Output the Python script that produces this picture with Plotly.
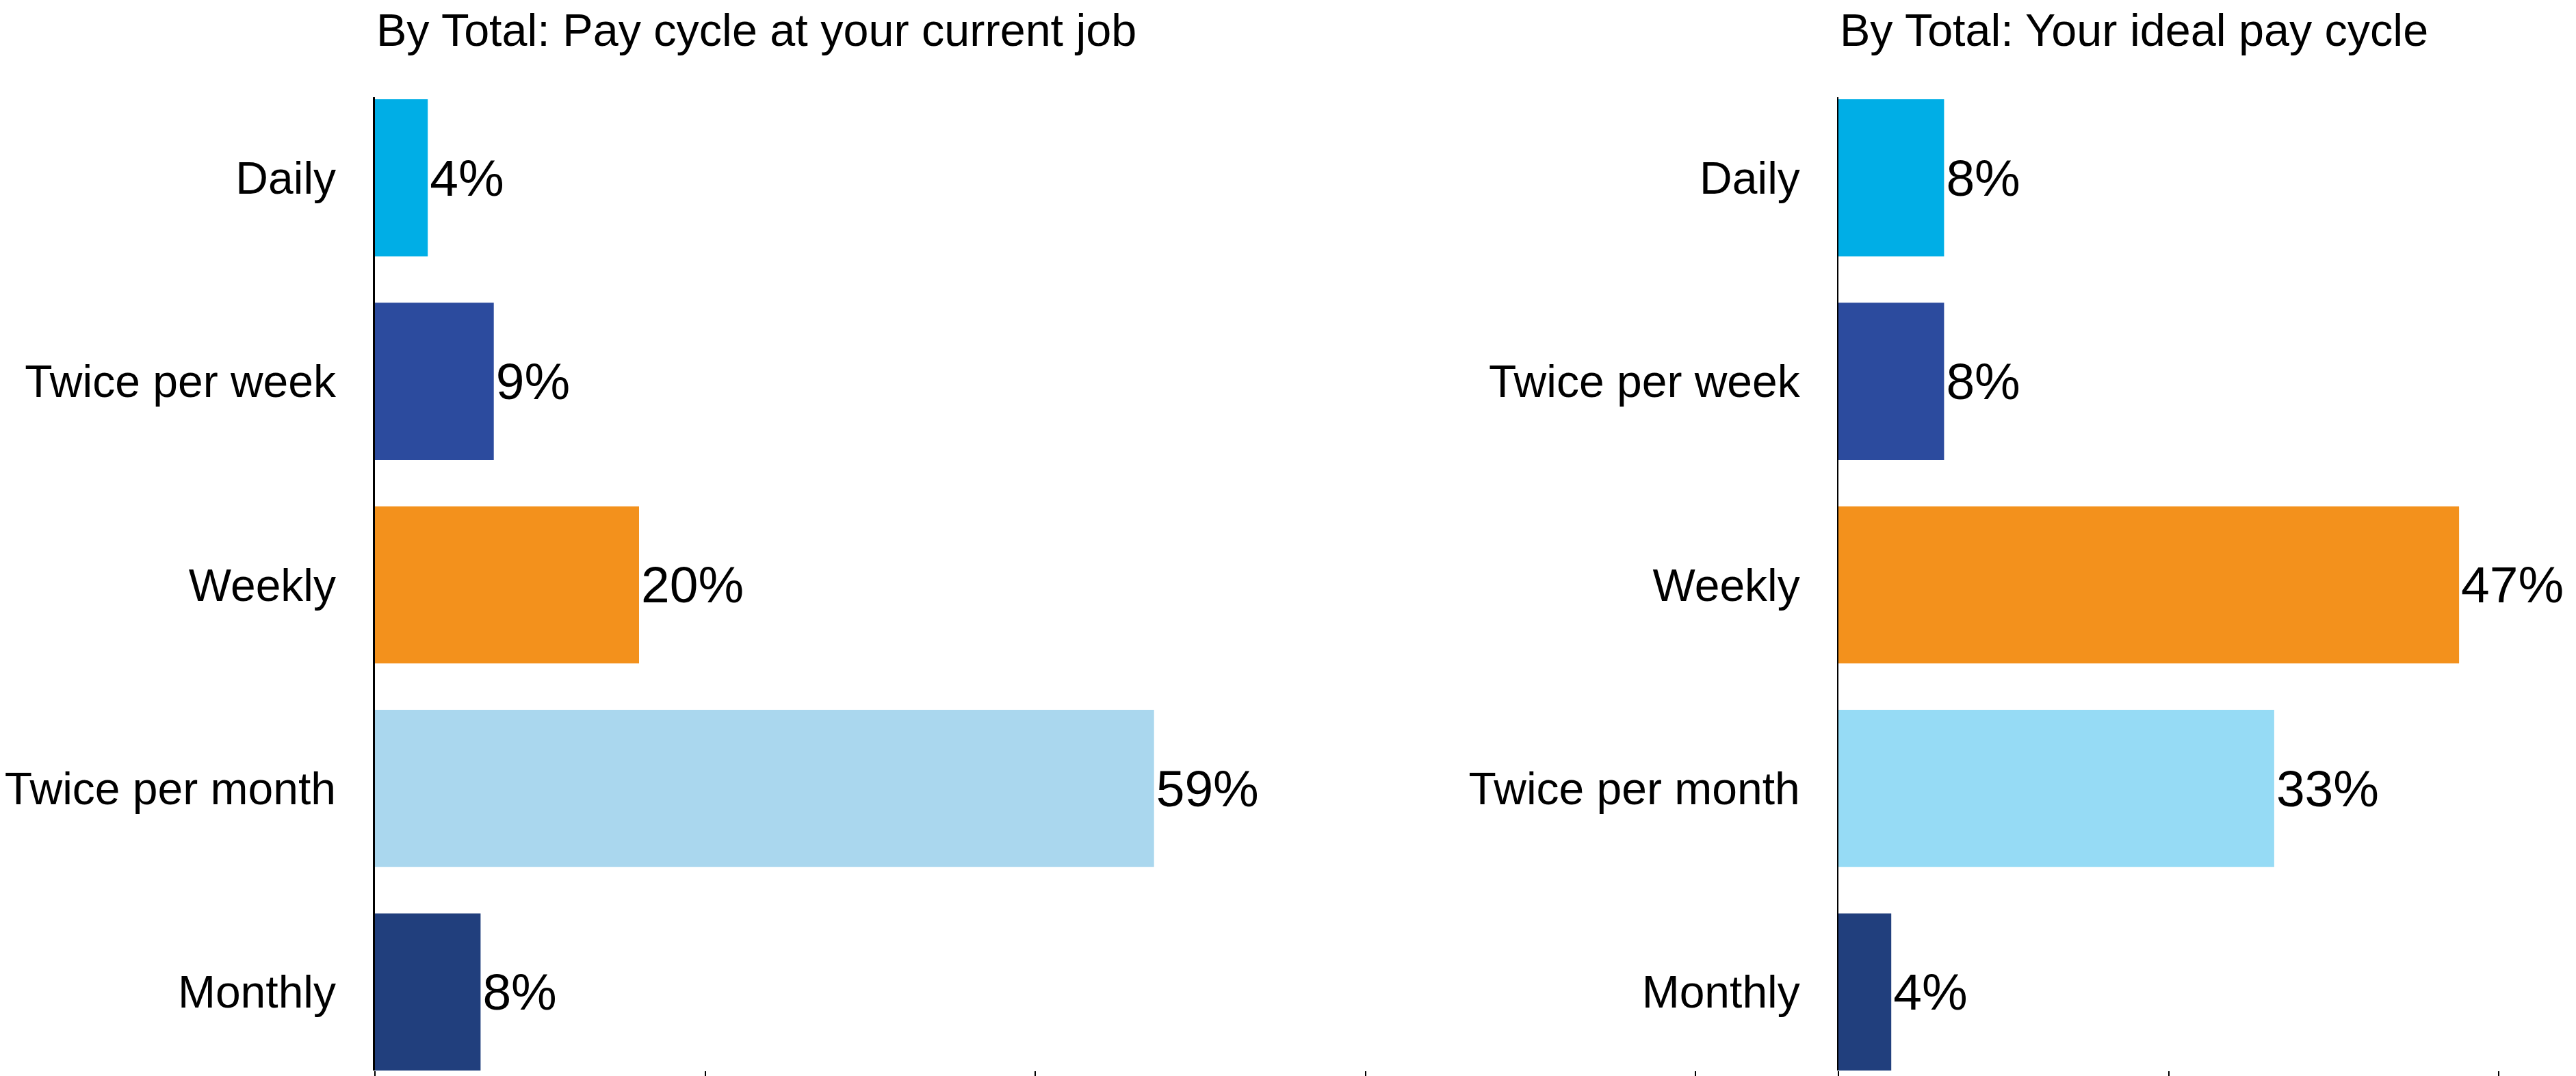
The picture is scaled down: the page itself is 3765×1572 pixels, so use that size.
import plotly.graph_objects as go

categories = ["Daily", "Twice per week", "Weekly", "Twice per month", "Monthly"]
current_job = [4, 9, 20, 59, 8]
ideal_cycle = [8, 8, 47, 33, 4]
colors_current = ["#00AEE6", "#2C4B9E", "#F3911C", "#AAD7EE", "#213F7D"]
colors_ideal = ["#00AEE6", "#2C4B9E", "#F3911C", "#96DBF5", "#213F7D"]
titles = ["By Total: Pay cycle at your current job", "By Total: Your ideal pay cycle"]
x_ticks = [0, 25, 50, 75, 100]

# page body has an 8px margin, so the figure is drawn 8px smaller and offset
OFF = 8
W, H = 3765 - OFF, 1572 - OFF
TOP = 142 - OFF
PLOT_BOTTOM = 1567 - OFF
BOT = H - PLOT_BOTTOM
PX_PER = 19.3
left_x0, left_x1 = 548 - OFF, 2490 - OFF
right_x0 = 2687 - OFF

FONT = "Liberation Sans, Arial, Helvetica, sans-serif"

fig = go.Figure()
fig.add_trace(go.Bar(
    x=current_job, y=categories, orientation="h",
    marker=dict(color=colors_current, line=dict(width=0)),
    width=0.772,
    text=[f"{v}%" for v in current_job], textposition="outside",
    textfont=dict(size=75, color="black", family=FONT),
    constraintext="none", cliponaxis=False,
    xaxis="x", yaxis="y", hoverinfo="skip",
))
fig.add_trace(go.Bar(
    x=ideal_cycle, y=categories, orientation="h",
    marker=dict(color=colors_ideal, line=dict(width=0)),
    width=0.772,
    text=[f"{v}%" for v in ideal_cycle], textposition="outside",
    textfont=dict(size=75, color="black", family=FONT),
    constraintext="none", cliponaxis=False,
    xaxis="x2", yaxis="y2", hoverinfo="skip",
))

xcommon = dict(showgrid=False, zeroline=False, showline=False, ticks="outside",
               ticklen=8, tickwidth=2, tickcolor="black", showticklabels=False,
               tickvals=x_ticks, fixedrange=True)
ycommon = dict(showgrid=False, zeroline=False, showline=True, linecolor="black",
               ticks="", tickfont=dict(size=66, color="black", family=FONT),
               categoryorder="array", categoryarray=categories,
               range=[4.386, -0.396], automargin=False, ticklabelstandoff=41)

fig.update_layout(
    width=W, height=H,
    margin=dict(l=0, r=0, t=TOP, b=BOT, pad=0),
    paper_bgcolor="white", plot_bgcolor="white",
    showlegend=False,
    font=dict(family=FONT, color="black"),
    xaxis=dict(domain=[left_x0 / W, left_x1 / W], range=[0, (left_x1 - left_x0) / PX_PER],
               anchor="y", **xcommon),
    xaxis2=dict(domain=[right_x0 / W, 1.0], range=[0, (W - right_x0) / PX_PER],
                anchor="y2", **xcommon),
    yaxis=dict(anchor="x", linewidth=2.5, **ycommon),
    yaxis2=dict(anchor="x2", linewidth=2, **ycommon),
)

plot_h = H - TOP - BOT
for t, x0 in zip(titles, [left_x0, right_x0]):
    fig.add_annotation(
        text=t, xref="paper", yref="paper",
        x=x0 / W, y=1 + (TOP - (44 - OFF)) / plot_h,
        xanchor="left", yanchor="middle", showarrow=False,
        font=dict(size=66.5, color="black", family=FONT),
    )

fig.write_html("out.html")
